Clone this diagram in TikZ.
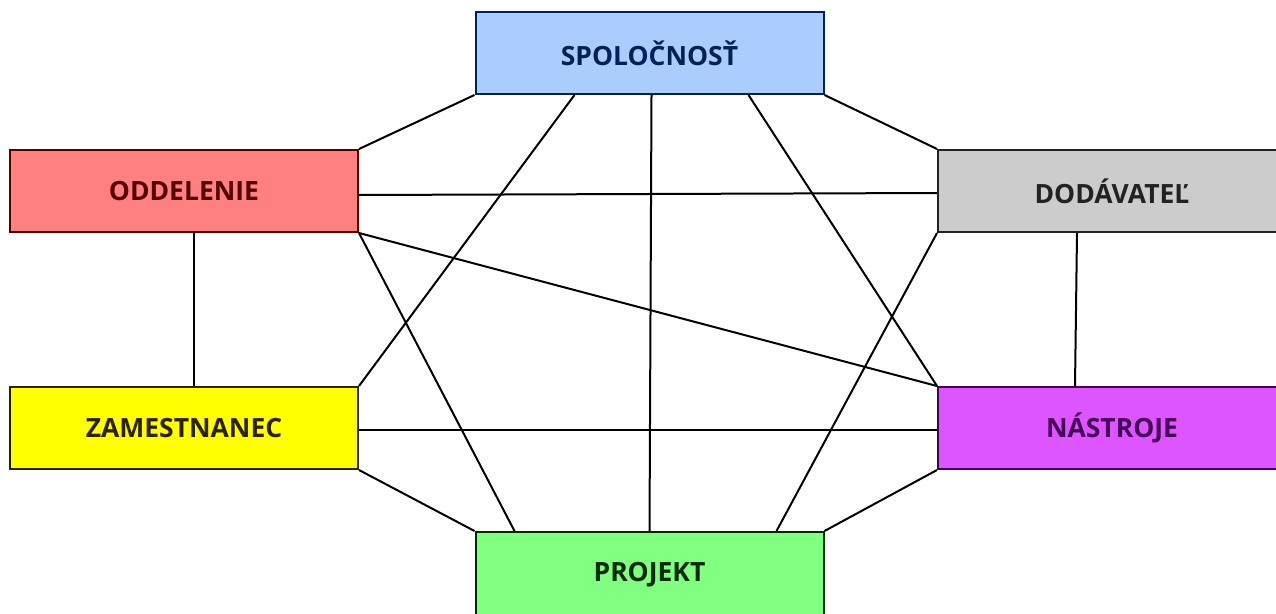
\documentclass[tikz,border=0pt]{standalone}
\usepackage{fontspec}
\setmainfont{Open Sans}
\usetikzlibrary{calc,backgrounds}
\definecolor{spolfill}{HTML}{AACCFF}\definecolor{spolline}{HTML}{002255}
\definecolor{oddfill}{HTML}{FF8080}\definecolor{oddline}{HTML}{550000}
\definecolor{dodfill}{HTML}{CCCCCC}\definecolor{dodline}{HTML}{222222}
\definecolor{zamfill}{HTML}{FFFF00}\definecolor{zamline}{HTML}{2B2200}
\definecolor{nasfill}{HTML}{DD55FF}\definecolor{nasline}{HTML}{440055}
\definecolor{projfill}{HTML}{80FF80}\definecolor{projline}{HTML}{002B00}
\tikzset{
  entity/.style n args={2}{draw=#2, fill=#1, text=#2, line width=2pt,
    minimum width=348pt, minimum height=82pt, inner sep=0pt,
    font=\fontsize{26.5}{32}\selectfont\bfseries},
  link/.style={draw=black, line width=2pt}
}
\begin{document}
\begin{tikzpicture}[x=1pt,y=1pt]
\useasboundingbox (0,0) rectangle (1276,-613);
\clip (0,0) rectangle (1276,-613);
% entities
\node[entity={spolfill}{spolline}] (spol) at (649.5,-53) {SPOLOČNOSŤ};
\node[entity={oddfill}{oddline}]   (odd)  at (184,-191)  {ODDELENIE};
\node[entity={dodfill}{dodline}]   (dod)  at (1112,-191) {\raisebox{-2pt}{DODÁVATEĽ}};
\node[entity={zamfill}{zamline}]   (zam)  at (184,-428)  {ZAMESTNANEC};
\node[entity={nasfill}{nasline}]   (nas)  at (1112,-428) {\raisebox{-3pt}{NÁSTROJE}};
\node[entity={projfill}{projline}, minimum height=86pt] (proj) at (649.5,-575) {\raisebox{1pt}{PROJEKT}};
% relationships, drawn beneath the boxes
\begin{scope}[on background layer]
\draw[link] (spol.south west) -- (odd.north east);
\draw[link] ($(spol.south west)+(100,0)$) -- (zam.north east);
\draw[link] ($(spol.south west)+(177,0)$) -- ($(proj.north west)+(175,0)$);
\draw[link] ($(spol.south east)+(-76,0)$) -- (nas.north west);
\draw[link] (spol.south east) -- (dod.north west);
\draw[link] ($(odd.east)+(0,-4)$) -- ($(dod.west)+(0,-2)$);
\draw[link] (odd.south east) -- (nas.north west);
\draw[link] (odd.south east) -- ($(proj.north west)+(40,0)$);
\draw[link] ($(odd.south)+(10,0)$) -- ($(zam.north)+(10,0)$);
\draw[link] (dod.south west) -- ($(proj.north east)+(-48,0)$);
\draw[link] ($(dod.south west)+(140,0)$) -- ($(nas.north west)+(138,0)$);
\draw[link] ($(zam.east)+(0,-2)$) -- ($(nas.west)+(0,-2)$);
\draw[link] (zam.south east) -- (proj.north west);
\draw[link] (nas.south west) -- (proj.north east);
\end{scope}
\end{tikzpicture}
\end{document}
